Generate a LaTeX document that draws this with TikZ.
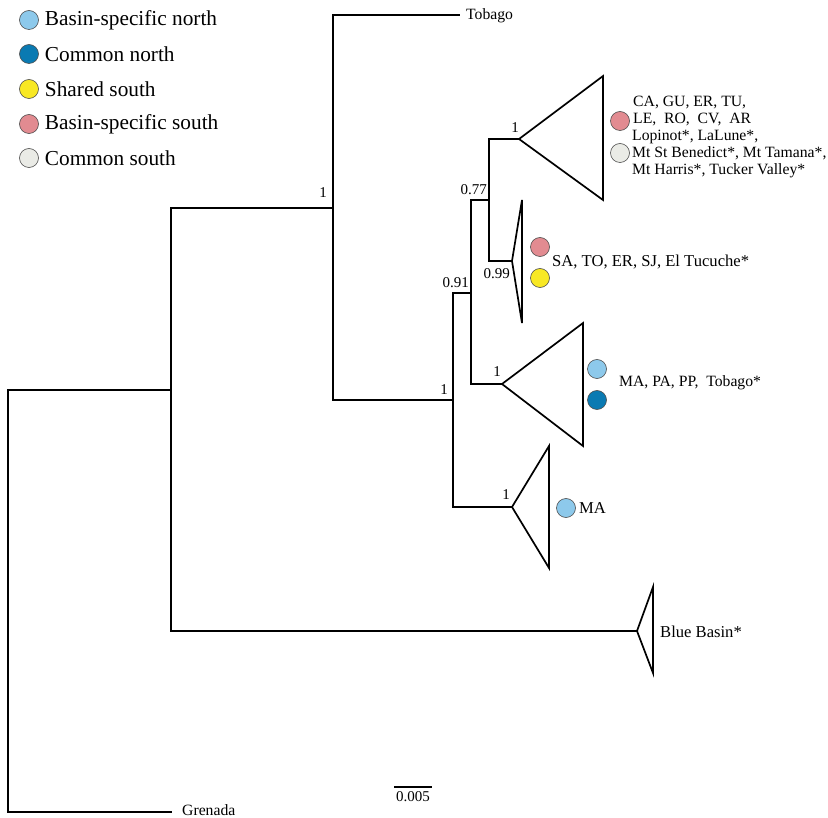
\documentclass[tikz,border=0pt]{standalone}
\usepackage{fontspec}
\setmainfont{Liberation Serif}
\usepackage{tikz}
\usetikzlibrary{positioning}
\definecolor{NorthLight}{RGB}{141,201,235}
\definecolor{NorthDark}{RGB}{10,122,178}
\definecolor{SouthShared}{RGB}{248,232,36}
\definecolor{SouthPink}{RGB}{226,139,145}
\definecolor{SouthGrey}{RGB}{234,235,230}

\begin{document}
\begin{tikzpicture}[x=1pt, y=-1pt,
 branch/.style={line width=1.7pt},
 clade/.style={line width=1.7pt, line join=miter},
 dot/.style={circle, draw=black!70, line width=0.6pt, minimum size=19pt, inner sep=0pt},
 taxon/.style={anchor=west, inner sep=0pt, font=\fontsize{15.7}{16.8}\selectfont},
 bigtaxon/.style={taxon, font=\fontsize{16.6}{18}\selectfont},
 support/.style={inner sep=0pt, font=\fontsize{15}{16.5}\selectfont},
 legtext/.style={anchor=west, inner sep=0pt, font=\fontsize{21.3}{23}\selectfont}
]
\useasboundingbox (0,0) rectangle (828,818);

% legend
\node[dot, fill=NorthLight]  (leg1) at (29,20)  {};
\node[dot, fill=NorthDark]   (leg2) at (29,54)  {};
\node[dot, fill=SouthShared] (leg3) at (29,89)  {};
\node[dot, fill=SouthPink]   (leg4) at (29,124) {};
\node[dot, fill=SouthGrey]   (leg5) at (29,158) {};
\node[legtext, right=6pt of leg1] (legt1) {Basin-specific north};
\node[legtext, right=6pt of leg2] (legt2) {Common north};
\node[legtext, right=6pt of leg3] (legt3) {Shared south};
\node[legtext, right=6pt of leg4] (legt4) {Basin-specific south};
\node[legtext, right=6pt of leg5] (legt5) {Common south};

% internal nodes
\coordinate (root)  at (8,600);
\coordinate (nA)    at (171,390);
\coordinate (nB)    at (333,208);
\coordinate (nC)    at (453,400);
\coordinate (nD)    at (471,293);
\coordinate (nE)    at (489,200);

% tips
\coordinate (tobago)   at (460,15);
\coordinate (grenada)  at (172,812);
\coordinate (cladeN)   at (519,139);
\coordinate (cladeS)   at (512,261);
\coordinate (cladeMP)  at (502,384);
\coordinate (cladeMA)  at (512,507);
\coordinate (cladeBB)  at (637,631);

% branches
\draw[branch] (root) |- (nA);
\draw[branch] (root) |- (grenada);
\draw[branch] (nA) |- (nB);
\draw[branch] (nA) |- (cladeBB);
\draw[branch] (nB) |- (tobago);
\draw[branch] (nB) |- (nC);
\draw[branch] (nC) |- (nD);
\draw[branch] (nC) |- (cladeMA);
\draw[branch] (nD) |- (nE);
\draw[branch] (nD) |- (cladeMP);
\draw[branch] (nE) |- (cladeN);
\draw[branch] (nE) |- (cladeS);

% collapsed clades
\draw[clade] (cladeN)  -- (603,76)  -- (603,200) -- cycle;
\draw[clade] (cladeS)  -- (522,200) -- (522,323) -- cycle;
\draw[clade] (cladeMP) -- (583,323) -- (583,446) -- cycle;
\draw[clade] (cladeMA) -- (549,446) -- (549,568) -- cycle;
\draw[clade] (cladeBB) -- (653,587) -- (653,673) -- cycle;

% support values
\node[support, anchor=south east] (sB)  at (327,198) {1};
\node[support, anchor=south east] (sC)  at (448,395) {1};
\node[support, anchor=south east] (sD)  at (469,288) {0.91};
\node[support, anchor=south east] (sE)  at (487,195) {0.77};
\node[support, anchor=south east] (sN)  at (519,133) {1};
\node[support, anchor=north east] (sS)  at (510,268) {0.99};
\node[support, anchor=south east] (sMP) at (501,377) {1};
\node[support, anchor=south east] (sMA) at (510,500) {1};

% clade markers
\node[dot, fill=SouthPink]   (dN1)  at (620,121) {};
\node[dot, fill=SouthGrey]   (dN2)  at (620,153) {};
\node[dot, fill=SouthPink]   (dS1)  at (540,247) {};
\node[dot, fill=SouthShared] (dS2)  at (540,278) {};
\node[dot, fill=NorthLight]  (dMP1) at (597,369) {};
\node[dot, fill=NorthDark]   (dMP2) at (597,400) {};
\node[dot, fill=NorthLight]  (dMA)  at (566,508) {};

% tip labels
\node[taxon] (lTobago)  at (466,16)  {Tobago};
\node[taxon] (lGrenada) at (182,810) {Grenada};
\node[taxon, align=left] (lN) at (632,137)
  {\hspace{1pt}CA, GU, ER, TU,\\ \hspace{1pt}LE,\ \ RO,\ \ CV,\ \ AR\\ Lopinot*, LaLune*,\\ Mt St Benedict*, Mt Tamana*,\\ Mt Harris*, Tucker Valley*};
\node[bigtaxon] (lS)  at (552,262) {SA, TO, ER, SJ, El Tucuche*};
\node[taxon]    (lMP) at (619,383) {MA, PA, PP,\ \ Tobago*};
\node[bigtaxon] (lMA) at (579,508) {MA};
\node[bigtaxon] (lBB) at (660,632) {Blue Basin*};

% scale bar
\coordinate (barL) at (394,787);
\coordinate (barR) at (432,787);
\coordinate (barM) at (413,787);
\draw[branch] (barL) -- (barR);
\node[support, below=4pt of barM] (barT) {0.005};
\end{tikzpicture}
\end{document}
